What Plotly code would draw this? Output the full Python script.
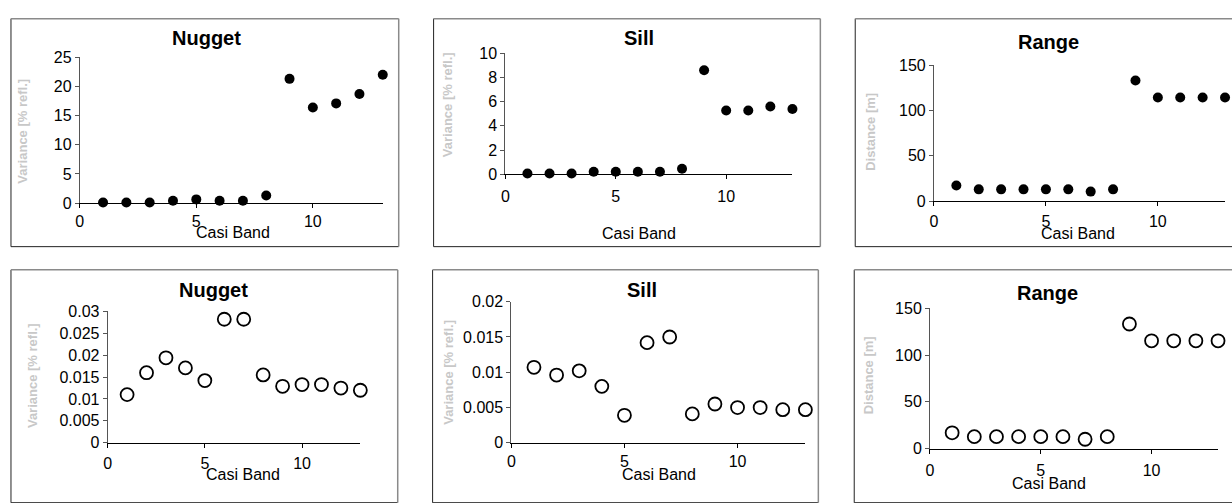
import plotly.graph_objects as go

W, H = 1232, 503

bands = list(range(1, 14))

# Top row (filled markers)
nugget_top = [0.1, 0.1, 0.1, 0.4, 0.65, 0.4, 0.4, 1.3, 21.3, 16.4, 17.1, 18.7, 22.0]
sill_top = [0.05, 0.05, 0.05, 0.2, 0.2, 0.2, 0.2, 0.45, 8.6, 5.28, 5.28, 5.6, 5.4]
range_top = [17.4, 13.1, 13.1, 13.1, 13.1, 13.1, 10.6, 13.1, 133.0, 114.2, 114.2, 114.2, 114.2]

# Bottom row (open markers)
nugget_bot = [0.0110, 0.0160, 0.0194, 0.0171, 0.0142, 0.0282, 0.0282, 0.0155, 0.0129, 0.0133, 0.0133, 0.0125, 0.0120]
sill_bot = [0.0107, 0.0096, 0.0102, 0.0080, 0.0039, 0.0142, 0.0150, 0.0041, 0.0055, 0.0050, 0.0050, 0.0047, 0.0047]
range_bot = [16.9, 12.8, 12.8, 12.8, 12.8, 12.8, 10.0, 12.8, 133.4, 115.4, 115.4, 115.4, 115.4]

titles = ["Nugget", "Sill", "Range", "Nugget", "Sill", "Range"]
ytitles = ["Variance [% refl.]", "Variance [% refl.]", "Distance [m]",
           "Variance [% refl.]", "Variance [% refl.]", "Distance [m]"]
xtitle = "Casi Band"
series = [nugget_top, sill_top, range_top, nugget_bot, sill_bot, range_bot]
yranges = [[0, 25], [0, 10], [0, 150], [0, 0.03], [0, 0.02], [0, 150]]
ydtick = [5, 2, 50, 0.005, 0.005, 50]

# pixel layout: (x of x=0, x of x=13, y of y=0, y of ymax)
plot_px = [
    (76, 380, 202, 51),
    (503, 791, 172, 47),
    (933, 1225, 200, 59),
    (104, 357.5, 450, 314),
    (509, 804, 450, 304),
    (929, 1218, 456, 311),
]
xlabel_off = [0, 4, 2, 2, 0, 3]
title_px = [(203, 31), (637, 31), (1048, 35), (210, 292), (640, 292), (1047, 295)]
ytitle_px = [(19, 127), (445, 100), (869, 128), (28, 380), (446, 377), (867, 380)]
xtitle_px = [(230, 232), (637, 233), (1077, 233), (240, 483), (657, 483), (1048, 492)]
boxes = [(7, 396, 11, 247), (431, 819, 11, 247), (854, 1240, 11, 247),
         (7, 395, 271, 512), (430, 817, 271, 512), (853, 1240, 271, 512)]

FONT = "Liberation Sans, Arial, sans-serif"

def px(x):
    return x / W

def py(y):
    return 1 - y / H

fig = go.Figure()
layout = dict(
    width=W, height=H,
    margin=dict(l=0, r=0, t=0, b=0),
    paper_bgcolor="white", plot_bgcolor="white",
    showlegend=False,
    font=dict(family=FONT, size=16, color="black"),
)
annotations = []
shapes = []

for i in range(6):
    n = i + 1
    xa = "x" if n == 1 else f"x{n}"
    ya = "y" if n == 1 else f"y{n}"
    top = i < 3
    if top:
        marker = dict(color="black", size=10, symbol="circle", line=dict(width=0))
    else:
        marker = dict(color="white", size=13, symbol="circle", line=dict(color="black", width=1.8))
    fig.add_trace(go.Scatter(x=bands, y=series[i], mode="markers", marker=marker,
                             xaxis=xa, yaxis=ya, cliponaxis=False, hoverinfo="x+y"))
    x0, x1, y0, y1 = plot_px[i]
    xk = "xaxis" if n == 1 else f"xaxis{n}"
    yk = "yaxis" if n == 1 else f"yaxis{n}"
    layout[xk] = dict(
        domain=[px(x0), px(x1)], anchor=ya, range=[0, 13], tickvals=[0, 5, 10],
        showgrid=False, zeroline=False, showline=True, linecolor="black", linewidth=1,
        ticks="outside", ticklen=4, tickcolor="black",
        tickfont=dict(family=FONT, size=16, color="black"),
        ticklabelstandoff=xlabel_off[i],
    )
    layout[yk] = dict(
        domain=[py(y0), py(y1)], anchor=xa, range=yranges[i], dtick=ydtick[i], tick0=0,
        showgrid=False, zeroline=False, showline=True, linecolor="#555555", linewidth=1,
        ticks="outside", ticklen=4, tickcolor="#555555",
        tickfont=dict(family=FONT, size=16, color="black"),
    )
    tx, ty = title_px[i]
    annotations.append(dict(text=f"<b>{titles[i]}</b>", x=px(tx), y=py(ty), xref="paper", yref="paper",
                            showarrow=False, xanchor="center", yanchor="middle",
                            font=dict(family=FONT, size=20, color="black")))
    ax_, ay_ = ytitle_px[i]
    annotations.append(dict(text=f"<b>{ytitles[i]}</b>", x=px(ax_), y=py(ay_), xref="paper", yref="paper",
                            showarrow=False, xanchor="center", yanchor="middle", textangle=-90,
                            font=dict(family=FONT, size=13, color="#c8c8c8")))
    cx, cy = xtitle_px[i]
    annotations.append(dict(text=xtitle, x=px(cx), y=py(cy), xref="paper", yref="paper",
                            showarrow=False, xanchor="center", yanchor="middle",
                            font=dict(family=FONT, size=16, color="black")))
    bx0, bx1, by0, by1 = boxes[i]
    # left and bottom dark, top and right gray
    shapes.append(dict(type="line", xref="paper", yref="paper", x0=px(bx0), x1=px(bx0), y0=py(by0), y1=py(by1),
                       line=dict(color="#222222", width=1)))
    shapes.append(dict(type="line", xref="paper", yref="paper", x0=px(bx0), x1=px(bx1), y0=py(by1), y1=py(by1),
                       line=dict(color="#222222", width=1)))
    shapes.append(dict(type="line", xref="paper", yref="paper", x0=px(bx0), x1=px(bx1), y0=py(by0), y1=py(by0),
                       line=dict(color="#8a8a8a", width=1.5)))
    shapes.append(dict(type="line", xref="paper", yref="paper", x0=px(bx1), x1=px(bx1), y0=py(by0), y1=py(by1),
                       line=dict(color="#8a8a8a", width=1.5)))

layout["annotations"] = annotations
layout["shapes"] = shapes
fig.update_layout(**layout)
fig.write_html("out.html")
